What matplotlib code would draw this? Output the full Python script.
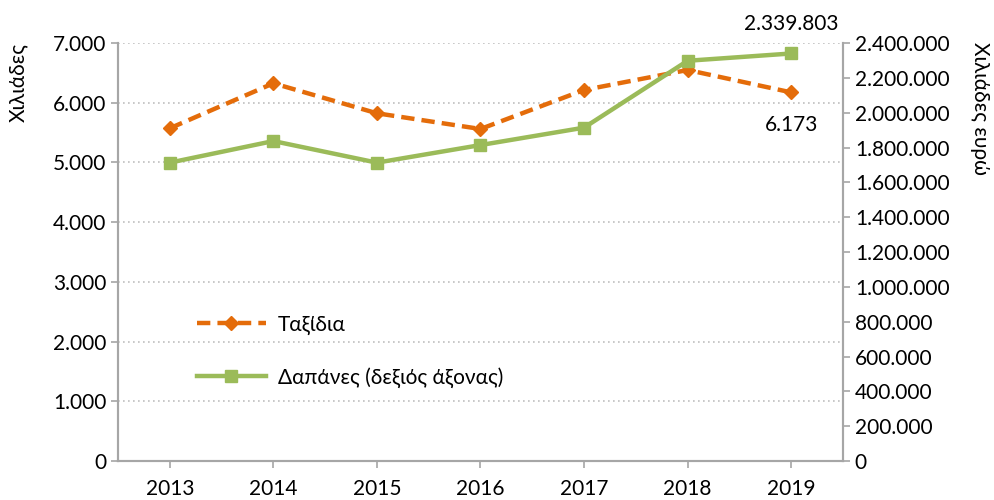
import matplotlib.pyplot as plt
from matplotlib.ticker import FuncFormatter

years = ["2013", "2014", "2015", "2016", "2017", "2018", "2019"]
trips = [5572, 6325, 5823, 5560, 6213, 6548, 6173]  # thousands
spending = [1713000, 1837000, 1713000, 1814000, 1914000, 2298000, 2339803]  # thousand euro

left_ticks = [0, 1000, 2000, 3000, 4000, 5000, 6000, 7000]
right_ticks = [0, 200000, 400000, 600000, 800000, 1000000, 1200000,
               1400000, 1600000, 1800000, 2000000, 2200000, 2400000]

orange = '#E46C0A'
green = '#9BBB59'
grey = '#A6A6A6'
fs = 15

plt.rcParams['font.family'] = ['Lato', 'DejaVu Sans']


def dotted(v, pos=None):
    return f"{int(v):,}".replace(",", ".")


fig = plt.figure(figsize=(9.95, 5), dpi=100)
ax = fig.add_axes([0.1186, 0.078, 0.7286, 0.836])
ax2 = ax.twinx()

x = list(range(len(years)))
l1, = ax.plot(x, trips, color=orange, lw=3.2, ls=(0, (3, 1.6)), marker='D',
              markersize=7, label='Ταξίδια', zorder=3)
l2, = ax2.plot(x, spending, color=green, lw=3.2, marker='s', markersize=9,
               label='Δαπάνες (δεξιός άξονας)', zorder=3)

ax.set_xlim(-0.5, 6.5)
ax.set_ylim(0, 7000)
ax2.set_ylim(0, 2400000)
ax.set_yticks(left_ticks)
ax2.set_yticks(right_ticks)
ax.yaxis.set_major_formatter(FuncFormatter(dotted))
ax2.yaxis.set_major_formatter(FuncFormatter(dotted))
ax.set_xticks(x)
ax.set_xticklabels(years)

ax.grid(axis='y', color='#BFBFBF', ls=(0, (1, 2)), lw=1.2)
ax.set_axisbelow(True)

for a in (ax, ax2):
    a.spines['top'].set_visible(False)
    for s in ('left', 'right', 'bottom'):
        a.spines[s].set_color(grey)
        a.spines[s].set_linewidth(1.5)
    a.tick_params(colors=grey, labelcolor='black', labelsize=fs, length=5, width=1.2)
ax.tick_params(axis='x', pad=8)

ax2.annotate(dotted(spending[-1]), (x[-1], spending[-1]), xytext=(0, 14),
             textcoords='offset points', ha='center', va='bottom', fontsize=fs)
ax.annotate(dotted(trips[-1]), (x[-1], trips[-1]), xytext=(0, -16),
            textcoords='offset points', ha='center', va='top', fontsize=fs)

fig.text(0.018, 0.915, 'Χιλιάδες', rotation=90, ha='center', va='top', fontsize=fs)
fig.text(0.985, 0.915, 'Χιλιάδες ευρώ', rotation=-90, ha='center', va='top', fontsize=fs)

leg = ax.legend(handles=[l1, l2], loc='upper left', bbox_to_anchor=(0.083, 0.395),
                frameon=False, fontsize=fs, handlelength=3.3, handletextpad=0.6,
                labelspacing=1.55)

fig.savefig('out.png', dpi=100)
